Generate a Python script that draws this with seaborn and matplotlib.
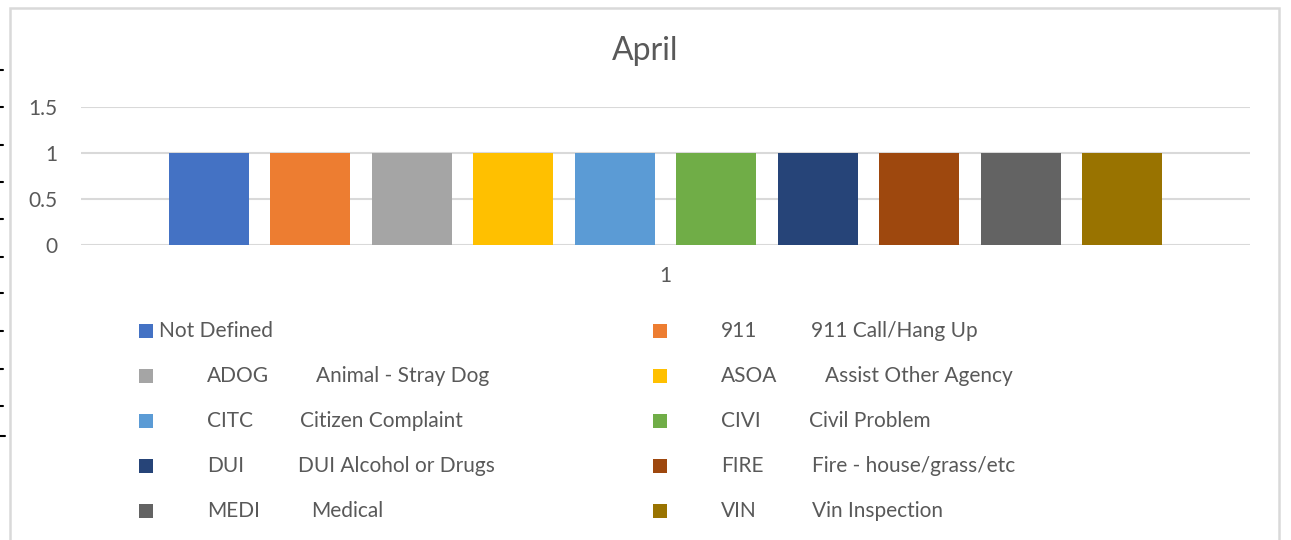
import matplotlib
matplotlib.use("Agg")
import matplotlib.pyplot as plt
from matplotlib.patches import Rectangle
from matplotlib.lines import Line2D
import seaborn as sns
import pandas as pd

# data
codes = ["Not Defined", "911", "ADOG", "ASOA", "CITC", "CIVI", "DUI", "FIRE", "MEDI", "VIN"]
descs = ["", "911 Call/Hang Up", "Animal - Stray Dog", "Assist Other Agency",
         "Citizen Complaint", "Civil Problem", "DUI Alcohol or Drugs",
         "Fire - house/grass/etc", "Medical", "Vin Inspection"]
counts = [1, 1, 1, 1, 1, 1, 1, 1, 1, 1]
category = ["1"] * 10
yticks = [0, 0.5, 1, 1.5]
ytick_labels = ["0", "0.5", "1", "1.5"]

colors = ["#4472C4", "#ED7D31", "#A5A5A5", "#FFC000", "#5B9BD5",
          "#70AD47", "#264478", "#9E480E", "#636363", "#997300"]
# x position (px) of the description text in the legend, tab-stops from the original
desc_x = [0, 811, 316, 825, 300, 809, 298, 812, 311, 812]

sns.set_style("white")
plt.rcParams['font.family'] = ['Lato', 'DejaVu Sans']
txt_col = "#595959"
grid_col = "#D9D9D9"
fs = 15

W, H = 1291, 540
fig = plt.figure(figsize=(W / 100, H / 100), dpi=100)
ax = fig.add_axes([81 / W, 1 - 245 / H, 1169 / W, 138 / H])

df = pd.DataFrame({"cat": category, "code": codes, "count": counts})
sns.barplot(data=df, x="cat", y="count", hue="code", hue_order=codes,
            palette=colors, width=0.868, gap=0.21, saturation=1,
            linewidth=0, edgecolor="none",
            legend=False, ax=ax, err_kws={"linewidth": 0})

ax.set_ylim(0, 1.5)
ax.set_xlim(-0.5, 0.5)
ax.set_yticks(yticks)
ax.set_yticklabels(ytick_labels)
ax.set_xlabel("")
ax.set_ylabel("")
ax.yaxis.grid(True, color=grid_col, linewidth=1.5)
ax.set_axisbelow(True)
for s in ax.spines.values():
    s.set_visible(False)
ax.tick_params(axis="y", length=0, pad=17, labelsize=fs, labelcolor=txt_col)
ax.tick_params(axis="x", length=0, pad=15, labelsize=fs, labelcolor=txt_col)

fig.text(0.5, 1 - 51 / H, "April", ha="center", va="center", fontsize=23, color=txt_col)

# chart frame
fig.add_artist(Rectangle((10 / W, -0.1), 1269 / W, 1.1 - 8 / H, transform=fig.transFigure,
                         fill=False, edgecolor=grid_col, linewidth=1.8))

# legend, two columns filled row by row like the spreadsheet
for i, (c, d, col) in enumerate(zip(codes, descs, colors)):
    row, colm = i // 2, i % 2
    yc = 331 + 45 * row
    mx = 139 if colm == 0 else 653
    fig.add_artist(Rectangle((mx / W, 1 - (yc + 7) / H), 14 / W, 14 / H,
                             transform=fig.transFigure, facecolor=col, edgecolor="none"))
    if d == "":
        fig.text((mx + 20) / W, 1 - yc / H, c, va="center", fontsize=fs, color=txt_col)
    else:
        fig.text((mx + 68) / W, 1 - yc / H, c, va="center", fontsize=fs, color=txt_col)
        fig.text(desc_x[i] / W, 1 - yc / H, d, va="center", fontsize=fs, color=txt_col)

# little marks on the left edge of the sheet
for yy in [70, 107, 145, 182, 219, 257, 293, 331, 369, 406]:
    fig.add_artist(Line2D([0, 3 / W], [1 - yy / H] * 2, color="black", linewidth=1.5))
fig.add_artist(Line2D([0, 5 / W], [1 - 436 / H] * 2, color="black", linewidth=1.5))

fig.savefig("out.png", dpi=100)
